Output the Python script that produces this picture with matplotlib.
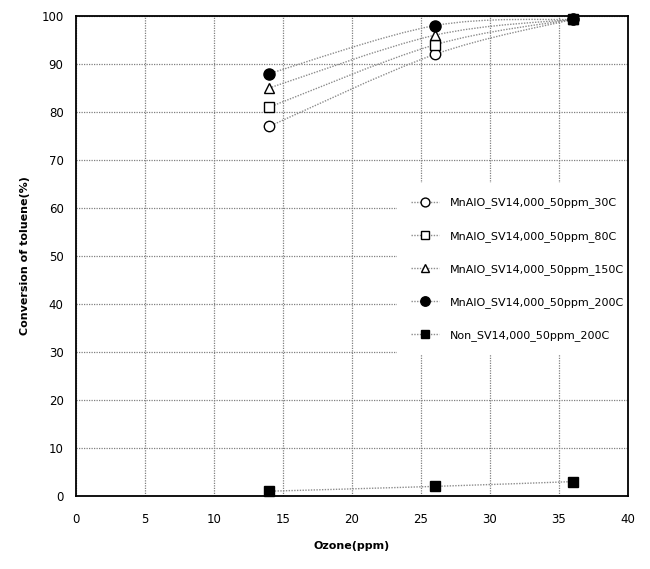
import matplotlib
matplotlib.use("Agg")
import matplotlib.pyplot as plt
from matplotlib.path import Path
from matplotlib.patches import PathPatch
from matplotlib.lines import Line2D

ozone = [14, 26, 36]
series_names = [
    "MnAlO_SV14,000_50ppm_30C",
    "MnAlO_SV14,000_50ppm_80C",
    "MnAlO_SV14,000_50ppm_150C",
    "MnAlO_SV14,000_50ppm_200C",
    "Non_SV14,000_50ppm_200C",
]
conv_30C = [77, 92, 99.3]
conv_80C = [81, 94, 99.3]
conv_150C = [85, 96, 99.3]
conv_200C = [88, 98, 99.3]
conv_non = [1, 2, 3]
x_ticks = [0, 5, 10, 15, 20, 25, 30, 35, 40]
y_ticks = [0, 10, 20, 30, 40, 50, 60, 70, 80, 90, 100]

series = [conv_30C, conv_80C, conv_150C, conv_200C, conv_non]
markers = ["o", "s", "^", "o", "s"]
faces = ["white", "white", "white", "black", "black"]
msizes = [7.5, 7.2, 7.2, 8, 7.5]

plt.rcParams['font.family'] = ['DejaVu Sans']
fig = plt.figure(figsize=(6.5, 5.69), dpi=100)
ax = fig.add_axes([76/650, 73/569, 552/650, 480/569])


def smooth_path(xs, ys):
    pts = list(zip(xs, ys))
    n = len(pts)
    verts = [pts[0]]
    codes = [Path.MOVETO]
    for i in range(n - 1):
        p0 = pts[i - 1] if i > 0 else pts[i]
        p1 = pts[i]
        p2 = pts[i + 1]
        p3 = pts[i + 2] if i + 2 < n else pts[i + 1]
        c1 = (p1[0] + (p2[0] - p0[0]) / 6, p1[1] + (p2[1] - p0[1]) / 6)
        c2 = (p2[0] - (p3[0] - p1[0]) / 6, p2[1] - (p3[1] - p1[1]) / 6)
        verts += [c1, c2, p2]
        codes += [Path.CURVE4] * 3
    return Path(verts, codes)


handles = []
for ys, m, fc, ms, name in zip(series, markers, faces, msizes, series_names):
    patch = PathPatch(smooth_path(ozone, ys), facecolor="none", edgecolor="#8c8c8c",
                      linestyle=(0, (1, 1)), linewidth=1.0, zorder=2)
    ax.add_patch(patch)
    ax.plot(ozone, ys, linestyle="none", marker=m, markerfacecolor=fc,
            markeredgecolor="black", markersize=ms, markeredgewidth=1.0,
            zorder=3, clip_on=False)
    handles.append(Line2D([0], [0], color="#8c8c8c", linestyle=(0, (1, 1)),
                          linewidth=1.0, marker=m, markerfacecolor=fc,
                          markeredgecolor="black", markersize=ms * 0.85,
                          markeredgewidth=1.0, label=name))

ax.set_xlim(0, 40)
ax.set_ylim(0, 100)
ax.set_xticks(x_ticks)
ax.set_yticks(y_ticks)
ax.grid(True, color="#808080", linestyle=(0, (1, 1)), linewidth=0.9)
ax.set_axisbelow(True)
for s in ax.spines.values():
    s.set_color("black")
    s.set_linewidth(1.3)
ax.tick_params(axis="both", length=0, labelsize=8.5)
ax.tick_params(axis="y", pad=9)
ax.tick_params(axis="x", pad=12)

ax.set_xlabel("Ozone(ppm)", fontsize=8, fontweight="bold", labelpad=11)
ax.set_ylabel("Conversion of toluene(%)", fontsize=8, fontweight="bold", labelpad=8)

leg = ax.legend(handles=handles, loc="upper right", bbox_to_anchor=(1.02, 0.652),
                frameon=True, facecolor="white", edgecolor="none", framealpha=1.0,
                fancybox=False, fontsize=8, labelspacing=2.0, handlelength=2.5,
                handletextpad=1.0, borderpad=1.3, borderaxespad=0.0)
leg.set_zorder(2.4)

fig.savefig("out.png", dpi=100)
